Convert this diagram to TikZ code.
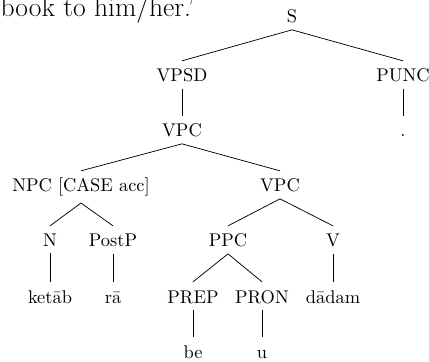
\documentclass[tikz,border=0pt]{standalone}
\begin{document}
\begin{tikzpicture}[x=0.5435pt,y=-0.5435pt,
  tn/.style={inner sep=3.3pt,text height=8pt},
  br/.style={line width=0.4pt}]
\clip (0,0) rectangle (429,362);
% tail of the gloss line above the tree
\node[anchor=base west,inner sep=0pt,font=\fontsize{15}{18}\selectfont] (gloss) at (0.3,17) {book to him/her.'};
% tree nodes, placed by baseline
\node[tn,anchor=base] (s)     at (292,23)  {S};
\node[tn,anchor=base] (vpsd)  at (182,82)  {VPSD};
\node[tn,anchor=base] (punc)  at (403,82)  {PUNC};
\node[tn,anchor=base] (vpc)   at (182,137) {VPC};
\node[tn,anchor=base] (dot)   at (403,137) {.};
\node[tn,anchor=base] (npc)   at (81,192)  {NPC [CASE acc]};
\node[tn,anchor=base] (vpcb)  at (280,192) {VPC};
\node[tn,anchor=base] (n)     at (50,247)  {N};
\node[tn,anchor=base] (postp) at (113,247) {PostP};
\node[tn,anchor=base] (ppc)   at (228,247) {PPC};
\node[tn,anchor=base] (v)     at (333,247) {V};
\node[tn,anchor=base] (ketab) at (50,303)  {ketāb};
\node[tn,anchor=base] (ra)    at (113,303) {rā};
\node[tn,anchor=base] (prep)  at (193,303) {PREP};
\node[tn,anchor=base] (pron)  at (262,303) {PRON};
\node[tn,anchor=base] (dadam) at (333,303) {dādam};
\node[tn,anchor=base] (be)    at (193,358) {be};
\node[tn,anchor=base] (u)     at (262,358) {u};
% branches
\draw[br] (s.south) -- (vpsd.north);
\draw[br] (s.south) -- (punc.north);
\draw[br] (vpsd.south) -- (vpc.north);
\draw[br] (punc.south) -- (dot.north);
\draw[br] (vpc.south) -- (npc.north);
\draw[br] (vpc.south) -- (vpcb.north);
\draw[br] (npc.south) -- (n.north);
\draw[br] (npc.south) -- (postp.north);
\draw[br] (vpcb.south) -- (ppc.north);
\draw[br] (vpcb.south) -- (v.north);
\draw[br] (n.south) -- (ketab.north);
\draw[br] (postp.south) -- (ra.north);
\draw[br] (ppc.south) -- (prep.north);
\draw[br] (ppc.south) -- (pron.north);
\draw[br] (v.south) -- (dadam.north);
\draw[br] (prep.south) -- (be.north);
\draw[br] (pron.south) -- (u.north);
\end{tikzpicture}
\end{document}
